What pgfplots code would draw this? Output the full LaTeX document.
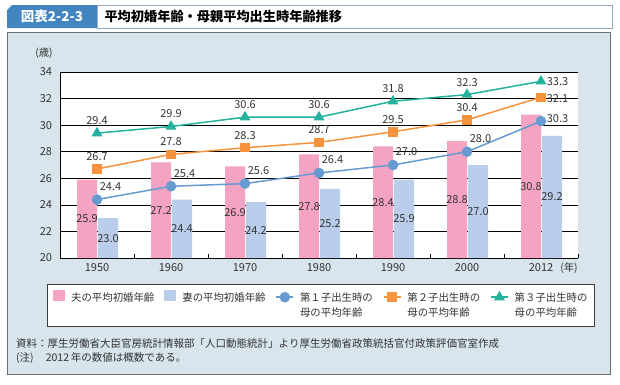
\documentclass[border=0pt]{standalone}
\usepackage{fontspec}
\setmainfont{Noto Sans CJK JP}
\usepackage{pgfplots}
\pgfplotsset{compat=1.18}
\usepackage{pgfplotstable}

\definecolor{tabblue}{RGB}{66,133,192}
\definecolor{panel}{RGB}{216,229,237}
\definecolor{pinkbar}{RGB}{244,164,194}
\definecolor{bluebar}{RGB}{186,206,236}
\definecolor{cone}{RGB}{104,154,210}
\definecolor{ctwo}{RGB}{245,148,60}
\definecolor{cthree}{RGB}{36,178,158}
\definecolor{txt}{RGB}{51,51,51}

\pgfplotstableread{
x h w c1 c2 c3
0 25.9 23.0 24.4 26.7 29.4
1 27.2 24.4 25.4 27.8 29.9
2 26.9 24.2 25.6 28.3 30.6
3 27.8 25.2 26.4 28.7 30.6
4 28.4 25.9 27.0 29.5 31.8
5 28.8 27.0 28.0 30.4 32.3
6 30.8 29.2 30.3 32.1 33.3
}\data

\newcommand{\LE}[2]{\begin{tabular}[t]{@{}l@{}}#1\\#2\end{tabular}}
\newcommand{\fmt}{\pgfmathprintnumber[fixed,fixed zerofill,precision=1]{\pgfplotspointmeta}}
\pgfplotsset{
  lineleg/.style={legend image code/.code={\draw[##1, mark repeat=2, mark phase=2] plot coordinates {(0pt,0pt) (8.5pt,0pt) (17pt,0pt)};}},
  pinkleg/.style={legend image code/.code={\fill[pinkbar] (0pt,-4pt) rectangle (12pt,7pt);}},
  blueleg/.style={legend image code/.code={\fill[bluebar] (0pt,-4pt) rectangle (12pt,7pt);}},
  lbl/.style={forget plot, draw=none, mark=none, point meta=explicit,
    nodes near coords={\fmt},
    every node near coord/.style={anchor=center, font=\fontsize{11}{13}\selectfont, text=txt, inner sep=0pt}},
}

\begin{document}
\begin{tikzpicture}[x=1pt,y=1pt]
\path[use as bounding box] (0,0) rectangle (620,-384);
\fill[white] (0,0) rectangle (620,-384);
% title
\fill[tabblue] (7,-28) -- (7,-10) -- (12,-5) -- (97,-5) -- (97,-28) -- cycle;
\node[anchor=center, text=white, font=\fontsize{13.5}{16}\selectfont\bfseries] at (52,-16.5) {図表2-2-3};
\draw[line width=0.6pt, draw={rgb,255:red,150;green,170;blue,190}, fill=white] (97,-5) rectangle (612,-28);
\node[anchor=west, font=\fontsize{13.2}{16}\selectfont\bfseries] at (101,-16.5) {平均初婚年齢・母親平均出生時年齢推移};
% panel
\draw[line width=0.9pt, draw={rgb,255:red,110;green,110;blue,110}, fill=panel] (7,-32) rectangle (610,-374);
% legend frame
\draw[line width=0.7pt, draw={rgb,255:red,60;green,60;blue,60}, fill=white] (47,-284) rectangle (594,-326);

\begin{axis}[
 at={(60pt,-258pt)}, anchor=south west, scale only axis, width=518pt, height=186pt,
 xmin=-0.5, xmax=6.5, ymin=20, ymax=34,
 xtick={0,...,6}, xticklabels={1950,1960,1970,1980,1990,2000,2012},
 minor xtick={-0.5,0.5,...,6.5},
 ytick={20,22,...,34},
 major tick length=0pt, minor tick length=4pt, tick align=inside,
 tick style={black, line width=0.6pt},
 axis x line*=bottom, axis y line*=left,
 axis line style={black, line width=0.8pt},
 ymajorgrids, grid style={black, line width=0.6pt},
 axis background/.style={fill=white},
 ticklabel style={font=\fontsize{11}{13}\selectfont, text=txt},
 /pgf/number format/assume math mode=true,
 yticklabel style={xshift=-4.5pt},
 xticklabel style={yshift=-2pt},
 legend style={at={(-0.0251,-0.1398)}, anchor=north west, draw=none, fill=none,
   inner xsep=6pt, inner ysep=6pt, legend columns=5,
   font=\fontsize{10.4}{15}\selectfont, text=txt,
   nodes={inner sep=0pt},
   /tikz/every even column/.append style={column sep=10pt},
   /tikz/every odd column/.append style={column sep=6pt}},
 legend cell align=left,
]
% bars
\addplot[ybar, bar width=20pt, bar shift=-10pt, fill=pinkbar, draw=none, pinkleg]
  table[x=x, y=h] {\data};
\addlegendentry{\LE{夫の平均初婚年齢}{\mbox{}}}
\addplot[ybar, bar width=20pt, bar shift=11pt, fill=bluebar, draw=none, blueleg]
  table[x=x, y=w] {\data};
\addlegendentry{\LE{妻の平均初婚年齢}{\mbox{}}}
% lines
\addplot[cone, line width=1.5pt, mark=*, mark size=4.5pt, lineleg]
  table[x=x, y=c1] {\data};
\addlegendentry{\LE{第１子出生時の}{母の平均年齢}}
\addplot[ctwo, line width=1.5pt, mark=square*, mark size=4pt, lineleg]
  table[x=x, y=c2] {\data};
\addlegendentry{\LE{第２子出生時の}{母の平均年齢}}
\addplot[cthree, line width=1.5pt, mark=triangle*, mark size=4.8pt, lineleg]
  table[x=x, y=c3] {\data};
\addlegendentry{\LE{第３子出生時の}{母の平均年齢}}

% bar labels (at mid-height of each bar)
\addplot[lbl, every node near coord/.append style={xshift=-10pt}]
  table[x=x, y expr={(\thisrow{h}+20)/2}, meta=h] {\data};
\addplot[lbl, every node near coord/.append style={xshift=11pt}]
  table[x=x, y expr={(\thisrow{w}+20)/2}, meta=w] {\data};
% line labels
\addplot[lbl, restrict x to domain=0:5, every node near coord/.append style={xshift=13.5pt, yshift=13pt}]
  table[x=x, y=c1, meta=c1] {\data};
\addplot[lbl, restrict x to domain=6:6, every node near coord/.append style={xshift=16.5pt, yshift=3pt}]
  table[x=x, y=c1, meta=c1] {\data};
\addplot[lbl, restrict x to domain=0:5, every node near coord/.append style={yshift=12.5pt}]
  table[x=x, y=c2, meta=c2] {\data};
\addplot[lbl, restrict x to domain=6:6, every node near coord/.append style={xshift=16.5pt, yshift=-1pt}]
  table[x=x, y=c2, meta=c2] {\data};
\addplot[lbl, restrict x to domain=0:5, every node near coord/.append style={yshift=12.5pt}]
  table[x=x, y=c3, meta=c3] {\data};
\addplot[lbl, restrict x to domain=6:6, every node near coord/.append style={xshift=16.5pt}]
  table[x=x, y=c3, meta=c3] {\data};
\end{axis}

\node[font=\fontsize{10.4}{12}\selectfont, text=txt] at (44,-53) {(歳)};
\node[font=\fontsize{10.4}{12}\selectfont, text=txt] at (569,-268) {(年)};
\node[anchor=west, font=\fontsize{10.5}{12}\selectfont, text=txt, inner sep=0pt] at (16,-344) {資料：厚生労働省大臣官房統計情報部「人口動態統計」より厚生労働省政策統括官付政策評価官室作成};
\node[anchor=west, font=\fontsize{10.5}{12}\selectfont, text=txt, inner sep=0pt] at (16,-358) {(注)\hspace{12pt}2012\,年の数値は概数である。};
\end{tikzpicture}
\end{document}
